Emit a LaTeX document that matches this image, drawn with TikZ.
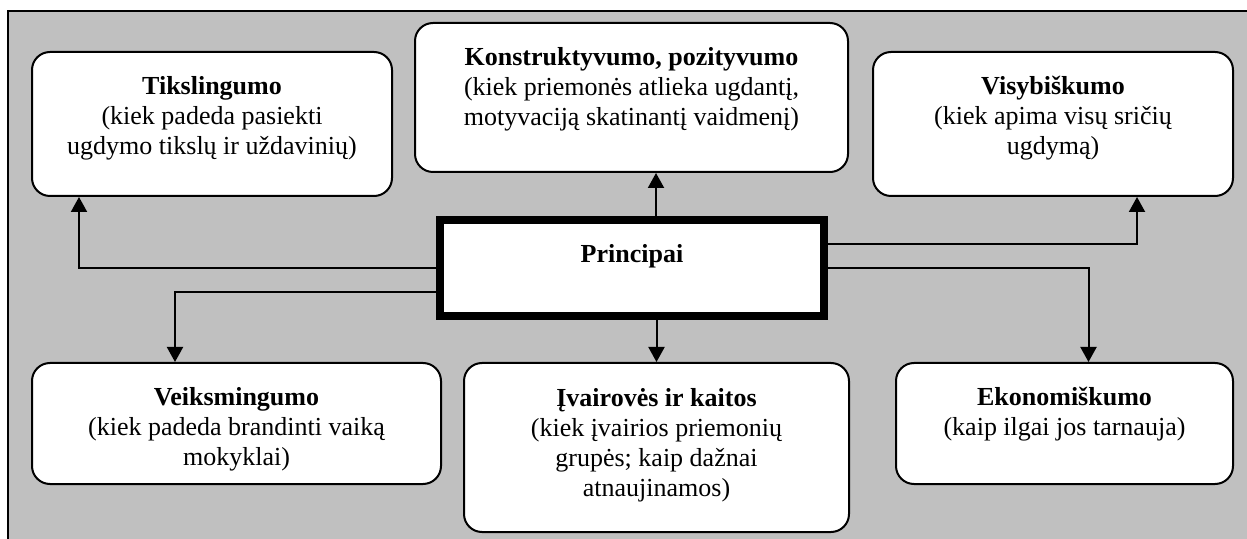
\documentclass[tikz,border=0pt]{standalone}
\usepackage{fontspec}
\setmainfont{Liberation Serif}
\usetikzlibrary{arrows.meta}
\definecolor{framegray}{HTML}{C0C0C0}
\newlength{\pxu}
\setlength{\pxu}{0.5pt}
\newcommand{\boxtext}[3]{\parbox[c][#2\pxu][t]{#1\pxu}{\centering\vspace*{11pt}\strut#3}}

\begin{document}
\begin{tikzpicture}[x=0.5pt,y=-0.5pt,font=\fontsize{13}{15}\selectfont,
	pbox/.style={draw,fill=white,rounded corners=9pt,line width=1pt,inner sep=0pt},
	mainbox/.style={draw,fill=white,line width=4pt,inner sep=0pt},
	conn/.style={line width=1pt,-{Triangle[length=7.5pt,width=8pt]}}]
	\useasboundingbox (0,0) rectangle (1247,539);
	\fill[framegray] (8,11) rectangle (1247,539);
	\draw[line width=1pt] (8,539) -- (8,11) -- (1247,11);
	
	\node[mainbox] (princ) at (632,268) {\boxtext{384}{96}{\textbf{Principai}}};
	
	\node[pbox] (tiks) at (212,124) {\boxtext{360}{144}{\textbf{Tikslingumo}\\(kiek padeda pasiekti\\ugdymo tikslų ir uždavinių)}};
	\node[pbox] (konst) at (631.5,97.5) {\boxtext{433}{149}{\textbf{Konstruktyvumo, pozityvumo}\\(kiek priemonės atlieka ugdantį,\\motyvaciją skatinantį vaidmenį)}};
	\node[pbox] (visyb) at (1053,124) {\boxtext{360}{144}{\textbf{Visybiškumo}\\(kiek apima visų sričių\\ugdymą)}};
	\node[pbox] (veiks) at (236.5,423.5) {\boxtext{409}{121}{\textbf{Veiksmingumo}\\(kiek padeda brandinti vaiką\\mokyklai)}};
	\node[pbox] (ivair) at (656.5,447.5) {\boxtext{385}{169}{\textbf{Įvairovės ir kaitos}\\(kiek įvairios priemonių\\grupės; kaip dažnai\\atnaujinamos)}};
	\node[pbox] (ekon) at (1064.5,423.5) {\boxtext{337}{121}{\textbf{Ekonomiškumo}\\(kaip ilgai jos tarnauja)}};
	
	% rodykles nuo principu
	\draw[conn] ([xshift=12pt]princ.north) -- ([xshift=12pt]princ.north |- konst.south);
	\draw[conn] (princ.west) -| ([xshift=24pt]tiks.south west);
	\draw[conn] ([yshift=-12pt]princ.west) -| ([xshift=72pt]veiks.north west);
	\draw[conn] (princ.south -| ivair.north) -- (ivair.north);
	\draw[conn] ([yshift=12pt]princ.east) -| ([xshift=-48.5pt]visyb.south east);
	\draw[conn] (princ.east) -| ([xshift=12pt]ekon.north);
\end{tikzpicture}
\end{document}
